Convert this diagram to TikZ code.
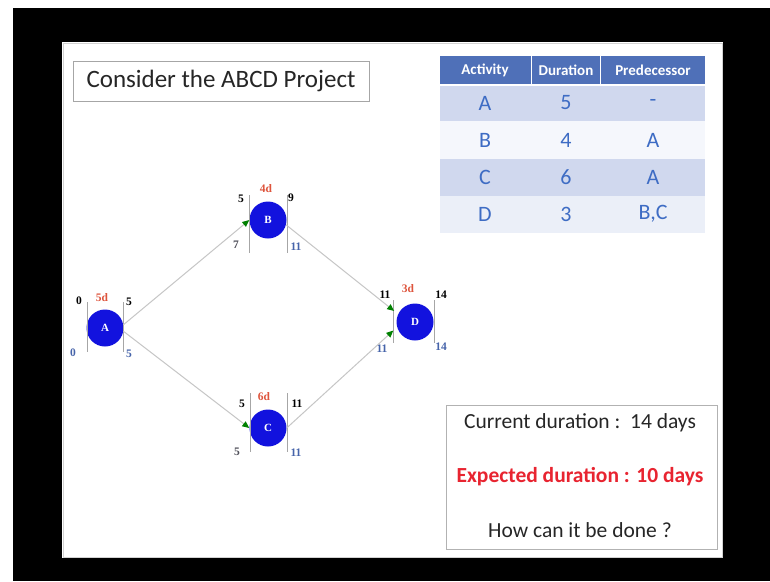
\documentclass[tikz,border=0pt]{standalone}
\usepackage{fontspec}
\setmainfont{Carlito}
\newfontfamily\timesfont{Liberation Serif}
\usetikzlibrary{arrows.meta}

\definecolor{nodeblue}{RGB}{18,18,222}
\definecolor{tabhead}{RGB}{79,112,184}
\definecolor{tabrow}{RGB}{208,216,238}
\definecolor{tabrowb}{RGB}{245,247,252}
\definecolor{tabrowd}{RGB}{235,239,248}
\definecolor{tabtext}{RGB}{62,108,196}
\definecolor{durred}{RGB}{232,36,48}
\definecolor{lblred}{RGB}{222,84,60}
\definecolor{lblblue}{RGB}{70,100,170}
\definecolor{lblgray}{RGB}{80,80,90}

\tikzset{
  act/.style={circle, fill=nodeblue, minimum size=37pt, inner sep=0pt, text=white,
    font=\timesfont\bfseries\fontsize{11}{11}\selectfont},
  tm/.style={font=\timesfont\bfseries\fontsize{11.5}{11.5}\selectfont, inner sep=0pt},
  dur/.style={tm, text=lblred},
  late/.style={tm, text=lblblue},
  bar/.style={draw=gray!70, line width=0.8pt},
  link/.style={draw=gray!45, line width=1pt,
    -{Triangle[color=green!50!black, length=7pt, width=6pt]}},
  cell/.style={text=tabtext, font=\fontsize{22}{22}\selectfont},
  head/.style={text=white, font=\bfseries\fontsize{15}{15}\selectfont},
  note/.style={text=black!85, font=\fontsize{21.5}{21.5}\selectfont}
}

\begin{document}
\begin{tikzpicture}[x=1pt, y=-1pt]
  % slide and frame
  \fill[white] (0,0) rectangle (770,581);
  \fill[black] (13,8) rectangle (770,581);
  \fill[white] (62,42) rectangle (723,558);
  \draw[gray!35] (63,43) rectangle (722,557);

  % title
  \draw[gray!70, line width=0.8pt] (73,61) rectangle (369,101);
  \node[anchor=west, text=black!85, font=\fontsize{25}{25}\selectfont] (title) at (83,81) {Consider the ABCD Project};

  % table
  \fill[tabhead] (440,56) rectangle (705,85);
  \fill[tabrow] (440,85) rectangle (705,121);
  \fill[tabrowb] (440,121) rectangle (705,159);
  \fill[tabrow] (440,159) rectangle (705,196);
  \fill[tabrowd] (440,196) rectangle (705,233);
  \draw[white, line width=1.5pt] (440,85) -- (705,85);
  \draw[white, line width=1pt] (531,56) -- (531,85);
  \draw[white, line width=1pt] (600,56) -- (600,85);
  \node[head] (hAct) at (485,70) {Activity};
  \node[head] (hDur) at (566,70) {Duration};
  \node[head] (hPre) at (653,70) {Predecessor};
  \node[cell] (aAct) at (485,103) {A};
  \node[cell] (aDur) at (566,103) {5};
  \node[cell] (aPre) at (653,103) {-};
  \node[cell] (bAct) at (485,140) {B};
  \node[cell] (bDur) at (566,140) {4};
  \node[cell] (bPre) at (653,140) {A};
  \node[cell] (cAct) at (485,177) {C};
  \node[cell] (cDur) at (566,177) {6};
  \node[cell] (cPre) at (653,177) {A};
  \node[cell] (dAct) at (485,214) {D};
  \node[cell] (dDur) at (566,214) {3};
  \node[cell] (dPre) at (653,214) {B,C};

  % network
  \node[act] (A) at (105,328) {A};
  \node[act] (B) at (268,220) {B};
  \node[act] (C) at (268,428) {C};
  \node[act] (D) at (415,322) {D};

  \draw[bar] (87,302) -- (87,352);
  \draw[bar] (123,302) -- (123,352);
  \draw[bar] (249,195) -- (249,253);
  \draw[bar] (287,195) -- (287,253);
  \draw[bar] (250,393) -- (250,452);
  \draw[bar] (287,393) -- (287,452);
  \draw[bar] (393,300) -- (393,343);
  \draw[bar] (434,300) -- (434,343);

  \node[tm] (Aes) at (79,301) {0};
  \node[dur] (Adur) at (102,298) {5d};
  \node[tm] (Aef) at (129,302) {5};
  \node[late] (Als) at (73,353) {0};
  \node[late] (Alf) at (129,354) {5};

  \node[tm] (Bes) at (241,199) {5};
  \node[dur] (Bdur) at (266,189) {4d};
  \node[tm] (Bef) at (291,198) {9};
  \node[tm, text=lblgray] (Bls) at (236,245) {7};
  \node[late] (Blf) at (296,247) {11};

  \node[tm] (Ces) at (242,404) {5};
  \node[dur] (Cdur) at (264,397) {6d};
  \node[tm] (Cef) at (297,404) {11};
  \node[tm, text=lblgray] (Cls) at (237,452) {5};
  \node[late] (Clf) at (296,453) {11};

  \node[tm] (Des) at (385,295) {11};
  \node[dur] (Ddur) at (408,289) {3d};
  \node[tm] (Def) at (441,295) {14};
  \node[late] (Dls) at (382,349) {11};
  \node[late] (Dlf) at (441,347) {14};

  \draw[link] (A.10) -- (B.west);
  \draw[link] (A.-10) -- (C.west);
  \draw[link, shorten >=5pt] (B.-15) -- (D.155);
  \draw[link, shorten >=5pt] (C.east) -- (D.196);

  % question box
  \draw[gray!60, line width=0.8pt] (446,405) rectangle (717,549);
  \node[note] (cur) at (580,423) {Current duration :\ \ 14 days};
  \node[note, text=durred, font=\bfseries\fontsize{21.5}{21.5}\selectfont] (exp) at (580,477) {Expected duration : 10 days};
  \node[note] (how) at (580,530) {How can it be done ?};
\end{tikzpicture}
\end{document}
